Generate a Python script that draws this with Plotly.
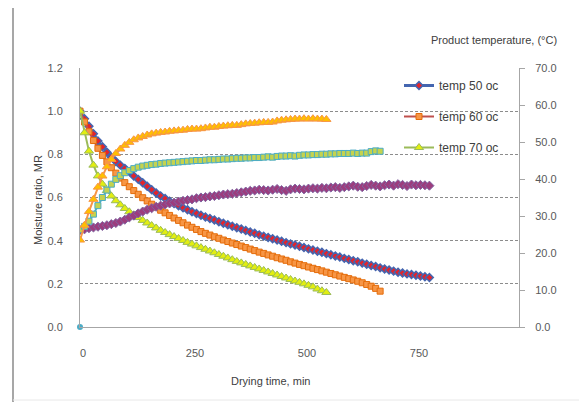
import plotly.graph_objects as go

# ---------------- data ----------------
time50 = list(range(0, 790, 10))
time60 = list(range(0, 680, 10))
time70 = list(range(0, 560, 10))

mr50 = [1.000, 0.965, 0.930, 0.895, 0.862, 0.835, 0.810, 0.787, 0.767, 0.750,
        0.735, 0.720, 0.700, 0.684, 0.668, 0.652, 0.636, 0.621, 0.607, 0.595,
        0.583, 0.572, 0.562, 0.552, 0.543, 0.534, 0.526, 0.518, 0.510, 0.503,
        0.496, 0.488, 0.481, 0.474, 0.467, 0.460, 0.454, 0.447, 0.440, 0.434,
        0.427, 0.421, 0.415, 0.409, 0.403, 0.397, 0.391, 0.385, 0.380, 0.374,
        0.368, 0.362, 0.357, 0.351, 0.346, 0.340, 0.335, 0.329, 0.324, 0.318,
        0.313, 0.307, 0.302, 0.296, 0.291, 0.285, 0.280, 0.274, 0.269, 0.264,
        0.259, 0.254, 0.250, 0.246, 0.243, 0.240, 0.236, 0.233, 0.229]

mr60 = [1.000, 0.950, 0.905, 0.864, 0.828, 0.795, 0.765, 0.738, 0.713, 0.690,
        0.669, 0.650, 0.632, 0.615, 0.599, 0.584, 0.569, 0.555, 0.541, 0.529,
        0.517, 0.505, 0.494, 0.483, 0.472, 0.462, 0.452, 0.442, 0.434, 0.426,
        0.418, 0.411, 0.403, 0.396, 0.389, 0.382, 0.375, 0.368, 0.361, 0.354,
        0.347, 0.341, 0.334, 0.328, 0.321, 0.315, 0.309, 0.302, 0.296, 0.290,
        0.284, 0.278, 0.272, 0.266, 0.260, 0.254, 0.248, 0.242, 0.236, 0.230,
        0.224, 0.218, 0.212, 0.205, 0.197, 0.189, 0.179, 0.166]

mr70 = [1.000, 0.900, 0.815, 0.750, 0.700, 0.662, 0.632, 0.607, 0.585, 0.566,
        0.549, 0.534, 0.520, 0.507, 0.494, 0.482, 0.470, 0.459, 0.448, 0.438,
        0.428, 0.419, 0.410, 0.401, 0.392, 0.384, 0.376, 0.368, 0.360, 0.352,
        0.344, 0.336, 0.328, 0.320, 0.312, 0.304, 0.297, 0.290, 0.283, 0.276,
        0.269, 0.262, 0.255, 0.248, 0.241, 0.234, 0.227, 0.220, 0.213, 0.207,
        0.200, 0.193, 0.186, 0.176, 0.168, 0.160]

temp70 = [23.5, 27.5, 31.2, 34.5, 37.8, 40.8, 43.3, 45.3, 46.9, 48.1,
          49.1, 49.9, 50.6, 51.1, 51.5, 51.9, 52.2, 52.4, 52.6, 52.7,
          52.9, 53.0, 53.1, 53.2, 53.4, 53.5, 53.5, 53.6, 53.8, 54.0,
          54.0, 54.2, 54.3, 54.4, 54.5, 54.5, 54.7, 54.9, 55.0, 55.1,
          55.2, 55.3, 55.3, 55.4, 55.7, 55.9, 56.0, 56.1, 56.2, 56.2,
          56.3, 56.2, 56.3, 56.2, 56.2, 56.1]

temp60 = [26.3, 27.2, 28.6, 30.5, 32.8, 35.0, 37.0, 38.6, 39.9, 40.9,
          41.7, 42.3, 42.8, 43.2, 43.5, 43.7, 43.9, 44.0, 44.2, 44.3,
          44.4, 44.5, 44.6, 44.7, 44.8, 44.9, 45.0, 45.0, 45.1, 45.2,
          45.2, 45.3, 45.4, 45.4, 45.5, 45.6, 45.6, 45.7, 45.7, 45.8,
          45.8, 45.9, 46.0, 45.9, 46.1, 46.2, 46.2, 46.3, 46.2, 46.4,
          46.5, 46.5, 46.6, 46.6, 46.7, 46.7, 46.8, 46.8, 46.9, 46.9,
          46.9, 47.0, 46.9, 47.0, 47.0, 47.4, 47.6, 47.5]

temp50 = [26.2, 26.4, 26.7, 26.9, 27.1, 27.3, 27.5, 27.8, 28.1, 28.5,
          29.0, 29.6, 30.1, 30.7, 31.2, 31.7, 32.1, 32.5, 32.8, 33.1,
          33.4, 33.6, 33.9, 34.1, 34.3, 34.5, 34.8, 35.0, 35.1, 35.3,
          35.4, 35.6, 35.8, 35.9, 36.0, 36.2, 36.4, 36.6, 36.8, 36.9,
          37.1, 37.0, 36.9, 37.1, 37.3, 37.0, 36.8, 37.2, 37.4, 37.3,
          37.2, 37.4, 37.5, 37.4, 37.6, 37.5, 37.7, 37.8, 37.6, 37.8,
          38.0, 38.2, 37.9, 37.8, 38.1, 38.4, 38.2, 38.0, 38.3, 38.5,
          38.2, 38.6, 38.4, 38.1, 38.5, 38.3, 38.4, 38.3, 38.2]

origin_x = [0]
origin_y = [0]

series_names = ["temp 50 oc", "temp 60 oc", "temp 70 oc"]
x_ticks = [0, 250, 500, 750]

# ---------------- layout helpers ----------------
# the page body adds an 8px offset, so margins are reduced by 8px
W, H = 587, 402
OFF = 8
PX_L, PX_R, PX_T, PX_B = 80, 519, 68, 327   # plot area in page pixels
PW, PH = PX_R - PX_L, PX_B - PX_T
L = PX_L - OFF
T = PX_T - OFF
R = W - L - PW
B = H - T - PH


def px_x(p):
    return (p - PX_L) / PW


def px_y(p):
    return (PX_B - p) / PH


FONT = "Liberation Sans, Arial, sans-serif"
TICK_COL = "#595959"
TITLE_COL = "#404040"

fig = go.Figure()

# moisture ratio series (left axis)
fig.add_trace(go.Scatter(
    x=time50, y=mr50, name=series_names[0], mode="lines+markers", legendgroup="a",
    line=dict(color="#4466B0", width=3),
    marker=dict(symbol="diamond", size=6, color="#E3242B", line=dict(color="#4466B0", width=1.5))))
fig.add_trace(go.Scatter(
    x=time60, y=mr60, name=series_names[1], mode="lines+markers", legendgroup="b",
    line=dict(color="#C0504D", width=2),
    marker=dict(symbol="square", size=6, color="#F79646", line=dict(color="#E46C0A", width=1))))
fig.add_trace(go.Scatter(
    x=time70, y=mr70, name=series_names[2], mode="lines+markers", legendgroup="c",
    line=dict(color="#9BBB59", width=2),
    marker=dict(symbol="triangle-up", size=8, color="#E2EE10", line=dict(color="#9BBB59", width=1))))
fig.add_trace(go.Scatter(
    x=origin_x, y=origin_y, mode="markers", showlegend=False, cliponaxis=False,
    marker=dict(symbol="circle", size=6, color="#4BACC6")))

# product temperature series (right axis)
fig.add_trace(go.Scatter(
    x=time50, y=temp50, yaxis="y2", mode="lines+markers", showlegend=False,
    line=dict(color="#8064A2", width=2),
    marker=dict(symbol="diamond", size=7, color="#9C3D7E", line=dict(color="#8064A2", width=1))))
fig.add_trace(go.Scatter(
    x=time60, y=temp60, yaxis="y2", mode="lines+markers", showlegend=False,
    line=dict(color="#4BACC6", width=2),
    marker=dict(symbol="square", size=6, color="#C4D34F", line=dict(color="#4BACC6", width=1))))
fig.add_trace(go.Scatter(
    x=time70, y=temp70, yaxis="y2", mode="lines+markers", showlegend=False,
    line=dict(color="#F79646", width=2),
    marker=dict(symbol="triangle-up", size=8, color="#FFC000", line=dict(color="#F79646", width=1))))

fig.update_layout(
    width=W, height=H,
    margin=dict(l=L, r=R, t=T, b=B, pad=0),
    paper_bgcolor="white", plot_bgcolor="white",
    font=dict(family=FONT, size=11, color=TICK_COL),
    xaxis=dict(range=[0, 980], tickvals=x_ticks, ticktext=[str(v) for v in x_ticks],
               showgrid=False, zeroline=False, showline=True, linecolor="#A6A6A6", linewidth=1,
               ticks="", ticklabelstandoff=16, ticklabelshift=3,
               tickfont=dict(size=11, color=TICK_COL)),
    yaxis=dict(range=[0, 1.2], dtick=0.2, tickformat=".1f", showgrid=True,
               gridcolor="#8C8C8C", griddash="3px,2px", gridwidth=1, zeroline=False,
               showline=True, linecolor="#A6A6A6", linewidth=1, ticks="",
               ticklabelstandoff=14, tickfont=dict(size=11, color=TICK_COL)),
    yaxis2=dict(range=[0, 70], dtick=10, tickformat=".1f", overlaying="y", side="right",
                showgrid=False, zeroline=False, showline=True, linecolor="#A6A6A6", linewidth=1,
                ticks="outside", ticklen=5, tickcolor="#A6A6A6",
                ticklabelstandoff=8, tickfont=dict(size=11, color=TICK_COL)),
    legend=dict(x=px_x(399), y=px_y(71), xanchor="left", yanchor="top",
                bgcolor="rgba(0,0,0,0)", font=dict(size=12, color=TITLE_COL),
                tracegroupgap=12, itemwidth=30),
    showlegend=True,
)

fig.add_annotation(text="Moisture ratio, MR", textangle=-90, xref="paper", yref="paper",
                   x=px_x(38), y=px_y(200), xanchor="center", yanchor="middle",
                   showarrow=False, font=dict(size=11, color=TITLE_COL))
fig.add_annotation(text="Drying time, min", xref="paper", yref="paper",
                   x=px_x(270), y=px_y(381), xanchor="center", yanchor="middle",
                   showarrow=False, font=dict(size=11, color=TITLE_COL))
fig.add_annotation(text="Product temperature, (°C)", xref="paper", yref="paper",
                   x=px_x(494), y=px_y(40), xanchor="center", yanchor="middle",
                   showarrow=False, font=dict(size=11, color=TITLE_COL))

# outer chart frame
fig.add_shape(type="line", xref="paper", yref="paper", x0=px_x(13), x1=px_x(13),
              y0=px_y(7), y1=px_y(402), line=dict(color="#8A8A8A", width=1.5))
fig.add_shape(type="line", xref="paper", yref="paper", x0=px_x(13), x1=px_x(584),
              y0=px_y(7), y1=px_y(7), line=dict(color="#8A8A8A", width=1.5))
fig.add_shape(type="line", xref="paper", yref="paper", x0=px_x(584), x1=px_x(584),
              y0=px_y(7), y1=px_y(400), line=dict(color="#E0E0E0", width=1))
fig.add_shape(type="line", xref="paper", yref="paper", x0=px_x(13), x1=px_x(584),
              y0=px_y(400), y1=px_y(400), line=dict(color="#E8E8E8", width=1))

fig.write_html("out.html")
